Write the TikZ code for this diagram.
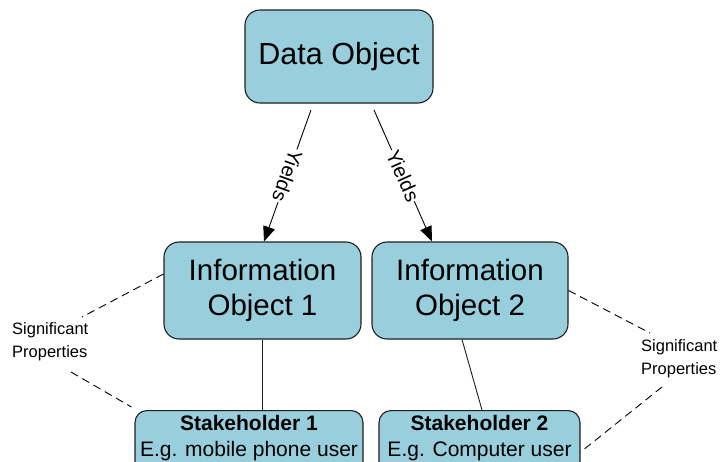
\documentclass[tikz,border=0pt]{standalone}
\usepackage{fontspec}
\setmainfont{Liberation Sans}
\usetikzlibrary{arrows.meta,calc}
\definecolor{boxblue}{RGB}{153,207,221}
\definecolor{edgegray}{RGB}{30,30,30}
\tikzset{
  obox/.style={draw=edgegray, fill=boxblue, line width=1.1pt, rounded corners=15pt, align=center, inner sep=0pt},
  shbox/.style={draw=edgegray, fill=boxblue, line width=1.1pt, rounded corners=12pt, align=center, inner xsep=0pt, inner ysep=5pt, anchor=north},
  yarrow/.style={draw=black, line width=0.9pt, -{Triangle[length=15pt,width=12pt]}},
  yields/.style={fill=white, inner sep=1pt, font=\fontsize{20}{24}\selectfont},
  solidline/.style={draw=edgegray, line width=0.9pt},
  dashline/.style={draw=black, line width=0.9pt, dash pattern=on 8pt off 5pt},
  sig/.style={align=left, inner sep=0pt, anchor=west, font=\fontsize{16.5}{23}\selectfont}
}
\begin{document}
\begin{tikzpicture}[x=1pt,y=-1pt]
\useasboundingbox (0,0) rectangle (720,461);
% boxes
\node[obox, minimum width=188pt, minimum height=93pt, font=\fontsize{30.5}{36}\selectfont] (do) at (339,56.5) {Data Object};
\node[obox, minimum width=197pt, minimum height=97pt, font=\fontsize{29.5}{35}\selectfont] (io1) at (262.5,290.5) {Information\\Object 1};
\node[obox, minimum width=196pt, minimum height=97pt, font=\fontsize{29.5}{35}\selectfont] (io2) at (470,290.5) {Information\\Object 2};
\node[shbox, minimum width=228pt, font=\fontsize{21}{26}\selectfont] (s1) at (249,410) {\textbf{Stakeholder 1}\\E.g. mobile phone user\\[-2pt]\strut};
\node[shbox, minimum width=201pt, font=\fontsize{21}{26}\selectfont] (s2) at (479.5,410) {\textbf{Stakeholder 2}\\E.g. Computer user\\[-2pt]\strut};
% labels
\node[sig] (sigl) at (12,341.5) {Significant\\Properties};
\node[sig] (sigr) at (641,358.5) {Significant\\Properties};
% free ends
\coordinate (a1s) at (311,110);
\coordinate (a2s) at (374,110);
\coordinate (dl1) at (82,317);
\coordinate (dl2) at (71,372);
\coordinate (dr1) at (650,333);
\coordinate (dr2) at (662,387);
% arrows
\draw[yarrow] (a1s) -- node[yields, rotate=-109.7] {Yields} ([xshift=1.5pt]io1.north);
\draw[yarrow] (a2s) -- node[yields, rotate=-66] {Yields} ([xshift=-38pt]io2.north);
% solid connectors
\draw[solidline] (io1.south) -- (io1.south |- s1.north);
\draw[solidline] ([xshift=-8pt]io2.south) -- ([xshift=2.5pt]s2.north);
% dashed
\draw[dashline] ([yshift=16.5pt]io1.west) -- (dl1);
\draw[dashline] (dl2) -- ([shift={(-3pt,3pt)}]s1.north west);
\draw[dashline] (io2.east) -- (dr1);
\draw[dashline] (dr2) -- (s2.east);
\end{tikzpicture}
\end{document}
